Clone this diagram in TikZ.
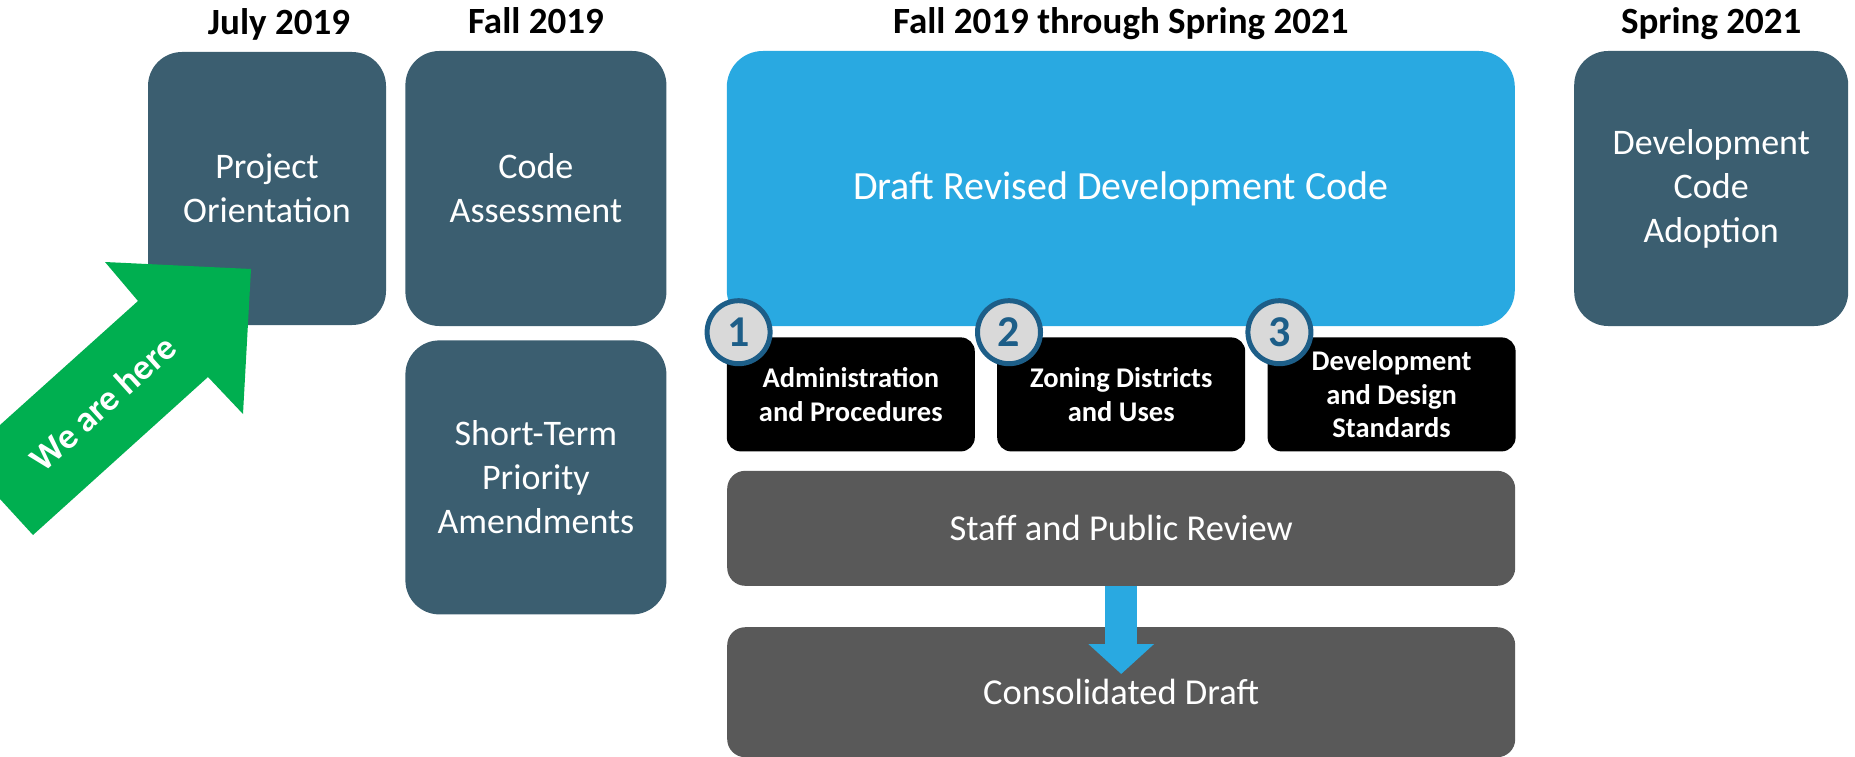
\documentclass[tikz,border=0pt]{standalone}
\usepackage{fontspec}
\setmainfont{Carlito}
\definecolor{slate}{HTML}{3B5E70}
\definecolor{skyblue}{HTML}{29A9E1}
\definecolor{stonegray}{HTML}{595959}
\definecolor{herogreen}{HTML}{00AF50}
\definecolor{numblue}{HTML}{1D5E88}
\definecolor{numfill}{HTML}{D9D9D9}
\usepackage{tikz}
\usetikzlibrary{arrows.meta, positioning}

\begin{document}
\begin{tikzpicture}[x = 1pt, y = -1pt,
  phase/.style = {rectangle, rounded corners = 34pt, fill = slate, text = white, align = center, inner sep = 0pt, font = \fontsize{36}{44}\selectfont},
  wide/.style = {rectangle, rounded corners = 18pt, fill = stonegray, text = white, align = center, minimum width = 788pt, font = \fontsize{36.5}{44}\selectfont},
  module/.style = {rectangle, rounded corners = 14pt, fill = black, text = white, align = center, minimum width = 248pt, minimum height = 114pt, inner sep = 0pt, font = \bfseries\fontsize{28.5}{33.5}\selectfont},
  num/.style = {circle, draw = numblue, line width = 5pt, fill = numfill, text = numblue, minimum size = 63pt, inner sep = 0pt, font = \bfseries\fontsize{44}{44}\selectfont},
  period/.style = {anchor = base, inner sep = 0pt, font = \bfseries\fontsize{37}{44}\selectfont}]
\useasboundingbox (0,0) rectangle (1855,757);

\node[phase, minimum width = 238pt, minimum height = 273pt] (orient) at (267,188.5) {Project\\Orientation};
\node[phase, minimum width = 261pt, minimum height = 275pt, right = 19pt of orient] (assess) {Code\\Assessment};
\node[phase, minimum width = 261pt, minimum height = 274pt, below = 14pt of assess] (shortterm) {Short-Term\\Priority\\Amendments};
\node[phase, fill = skyblue, rounded corners = 36pt, minimum width = 788pt, minimum height = 275pt, right = 60pt of assess, font = \fontsize{40}{48}\selectfont] (draft) {Draft Revised Development Code};
\node[phase, minimum width = 274pt, minimum height = 275pt, right = 59pt of draft] (adopt) {Development\\Code\\Adoption};

\node[module, below right = 11pt and 0pt of draft.south west] (admin) {Administration\\and Procedures};
\node[module, right = 22pt of admin] (zoning) {Zoning Districts\\and Uses};
\node[module, right = 22pt of zoning] (design) {Development\\and Design\\Standards};
\foreach \mod/\n in {admin/1, zoning/2, design/3}
  \node[num] (num\n) at ([xshift = 12pt, yshift = 5pt]\mod.north west) {\n};

\node[wide, minimum height = 115pt, below = 19pt of zoning] (review) {Staff and Public Review};
\node[wide, minimum height = 130pt, below = 41pt of review] (consolidated) {Consolidated Draft};
\draw[-{Triangle[width = 64pt, length = 30pt]}, line width = 32pt, skyblue, shorten > = -47pt] (review.south) -- (consolidated.north);

\node[period] (july) at ([xshift = 12pt, yshift = 17pt]orient.north) {July 2019};
\node[period] (fall) at ([yshift = 17pt]assess.north) {Fall 2019};
\node[period] (span) at ([yshift = 17pt]draft.north) {Fall 2019 through Spring 2021};
\node[period] (spring) at ([yshift = 17pt]adopt.north) {Spring 2021};

% pointer
\fill[herogreen] (0,425) -- (138,301) -- (105,262) -- (251,269) -- (243,414) -- (208,377) -- (33,535) -- (0,499) -- cycle;
\node[rotate = 42, text = white, font = \bfseries\fontsize{36}{42}\selectfont] (here) at (103,403) {We are here};
\end{tikzpicture}
\end{document}
